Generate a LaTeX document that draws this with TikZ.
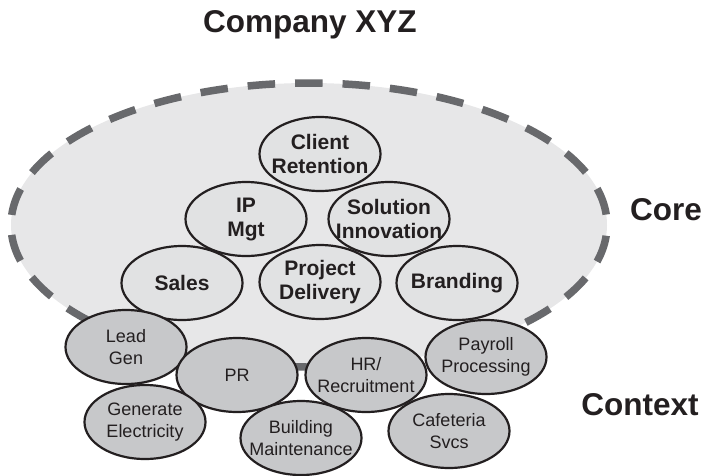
\documentclass[tikz,border=0pt]{standalone}
\usepackage{fontspec}
\setmainfont{Liberation Sans}
\usetikzlibrary{shapes.geometric}
\definecolor{zone-color}{RGB}{231, 231, 232}
\definecolor{core-color}{RGB}{225, 226, 227}
\definecolor{context-color}{RGB}{199, 200, 202}
\definecolor{dash-color}{RGB}{104, 105, 108}
\definecolor{ink-color}{RGB}{35, 31, 32}

\begin{document}
\begin{tikzpicture}[x=1pt, y=-1pt,
  core/.style={ellipse, draw=ink-color, line width=2.2pt, fill=core-color, minimum width=121pt, minimum height=74pt, inner sep=-20pt, align=center, text=ink-color, font=\fontsize{21}{24}\selectfont\bfseries},
  context/.style={core, fill=context-color, font=\fontsize{18}{22}\selectfont},
  heading/.style={anchor=base, text=ink-color, font=\fontsize{31.5}{36}\selectfont\bfseries}]
\useasboundingbox (0,0) rectangle (707,475);

\node (zone) [ellipse, fill=zone-color, draw=dash-color, line width=7.5pt, dash pattern=on 27.5pt off 20pt, dash phase=37pt, minimum width=596pt, minimum height=284pt, inner sep=0pt] at (309,225) {};

\node (title) [heading] at (310,32) {Company XYZ};
\node (corelabel) [heading] at (666,220) {Core};
\node (contextlabel) [heading] at (640,415) {Context};

\node (client) [core] at (320,154) {Client\\Retention};
\node (ip) [core] at (246,219) {IP\\Mgt};
\node (solution) [core] at (389,219) {Solution\\Innovation};
\node (sales) [core] at (182,283) {Sales};
\node (delivery) [core] at (320,282) {Project\\Delivery};
\node (branding) [core] at (457,283) {Branding};

\node (lead) [context] at (126,347) {Lead\\Gen};
\node (pr) [context] at (237,375) {PR};
\node (hr) [context] at (366,375) {HR/\\Recruitment};
\node (payroll) [context] at (486,357) {Payroll\\Processing};
\node (power) [context] at (145,422) {Generate\\Electricity};
\node (building) [context] at (301,438) {Building\\Maintenance};
\node (cafe) [context] at (449,431) {Cafeteria\\Svcs};
\end{tikzpicture}
\end{document}
